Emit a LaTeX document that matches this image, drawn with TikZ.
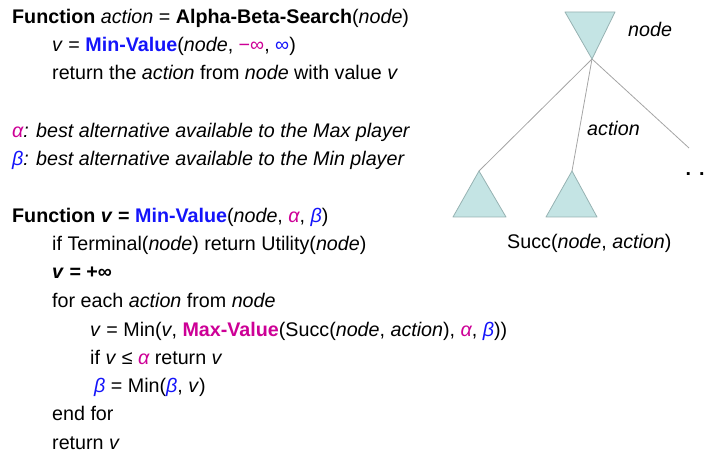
\documentclass[tikz,border=0pt]{standalone}
\usepackage{fontspec}
\setmainfont{Liberation Sans}
\definecolor{mvblue}{RGB}{20,20,250}
\definecolor{mvmag}{RGB}{205,0,150}
\definecolor{trifill}{RGB}{196,228,228}
\definecolor{tridraw}{RGB}{150,178,178}
\definecolor{edgegray}{RGB}{165,165,165}
\newcommand{\bl}[1]{\textcolor{mvblue}{#1}}
\newcommand{\mg}[1]{\textcolor{mvmag}{#1}}
\begin{document}
\begin{tikzpicture}[x=1pt,y=-1pt,
  codeline/.style={anchor=base west, inner sep=0pt, font=\fontsize{19.7}{23}\selectfont},
  tri/.style={fill=trifill, draw=tridraw, line width=0.8pt, line join=round},
  edge/.style={draw=edgegray, line width=0.8pt}]
\useasboundingbox (0,0) rectangle (709,454);

% pseudo-code
\node[codeline] (l1) at (12,24) {\textbf{Function} \textit{action} = \textbf{Alpha-Beta-Search}(\textit{node})};
\node[codeline] (l2) at (52,52) {\textit{v} = \textbf{\bl{Min-Value}}(\textit{node}, \mg{−∞}, \bl{∞})};
\node[codeline] (l3) at (52,79.5) {return the \textit{action} from \textit{node} with value \textit{v}};
\node[codeline] (l4) at (12,137.5) {\textit{\mg{α}: best alternative available to the Max player}};
\node[codeline] (l5) at (12,165.5) {\textit{\bl{β}: best alternative available to the Min player}};
\node[codeline] (l6) at (12,222.5) {\textbf{Function \textit{v} = \bl{Min-Value}}(\textit{node}, \textit{\mg{α}}, \textit{\bl{β}})};
\node[codeline] (l7) at (52,250.5) {if Terminal(\textit{node}) return Utility(\textit{node})};
\node[codeline] (l8) at (52,278.5) {\textbf{\textit{v} = +∞}};
\node[codeline] (l9) at (52,307.5) {for each \textit{action} from \textit{node}};
\node[codeline] (l10) at (90,336.5) {\textit{v} = Min(\textit{v}, \textbf{\mg{Max-Value}}(Succ(\textit{node}, \textit{action}), \textit{\mg{α}}, \textit{\bl{β}}))};
\node[codeline] (l11) at (90,364.5) {if \textit{v} ≤ \textit{\mg{α}} return \textit{v}};
\node[codeline] (l12) at (94,392.5) {\textit{\bl{β}} = Min(\textit{\bl{β}}, \textit{v})};
\node[codeline] (l13) at (52,420.5) {end for};
\node[codeline] (l14) at (52,449) {return \textit{v}};

% search tree
\coordinate (root) at (592,59);
\coordinate (c1) at (479,171);
\coordinate (c2) at (572,171);
\coordinate (c3) at (689,148);
\draw[edge] (root) -- (c1);
\draw[edge] (root) -- (c2);
\draw[edge] (root) -- (c3);
\path[tri] (565,12) -- (615,12) -- (root) -- cycle;
\path[tri] (c1) -- (506,217) -- (453,217) -- cycle;
\path[tri] (c2) -- (597,217) -- (546,217) -- cycle;

\node[codeline] (nlab) at (628,37) {\textit{node}};
\node[codeline] (alab) at (587,136) {\textit{action}};
\node[codeline] (slab) at (507,249) {Succ(\textit{node}, \textit{action})};
\node[codeline] (dots) at (685.5,176) {\textbf{.}\hspace{8pt}\textbf{.}};
\end{tikzpicture}
\end{document}
